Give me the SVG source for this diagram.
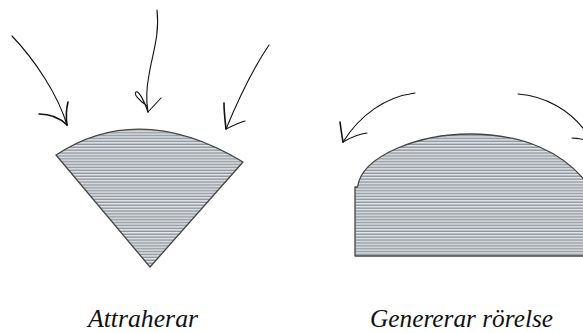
<svg xmlns="http://www.w3.org/2000/svg" width="583" height="333" viewBox="0 0 583 333">
  <defs>
    <!-- horizontal hatch used to fill both bodies -->
    <pattern id="hatch" patternUnits="userSpaceOnUse" width="6" height="2.9">
      <rect width="6" height="2.9" fill="#e4e7ea"/>
      <rect y="1.5" width="6" height="1.4" fill="#8d949b"/>
    </pattern>
  </defs>
  <style>
    .body { fill: url(#hatch); stroke: #444; stroke-width: 1.3; stroke-linejoin: round; }
    .stroke { fill: none; stroke: #111; stroke-width: 1.1; stroke-linecap: round; }
    .barb { fill: none; stroke: #111; stroke-width: 1.6; stroke-linecap: round; }
    .label { font-family: "Liberation Serif", "DejaVu Serif", serif; font-style: italic; font-size: 25px; fill: #111; }
  </style>

  <!-- sector body: attracting -->
  <g id="sector">
    <path class="body" d="M56,155 Q140,100 243,162 L150,267 Z"/>
  </g>

  <!-- dome body: generating motion -->
  <g id="dome">
    <path class="body" d="M355,256 L355,187 L357.5,187 C362,155 420,134 470,134 C520,134 565,150 592,190 L592,256 Z"/>
  </g>

  <!-- hand-drawn arrows -->
  <g id="connectors">
    <!-- incoming, left -->
    <path class="stroke" d="M12,36 C35,60 58,95 67,125"/>
    <path class="barb" d="M68,102 C66,110 66,118 67,125"/>
    <path class="barb" d="M39,114 C50,114 60,118 67,125"/>
    <!-- incoming, middle -->
    <path class="stroke" d="M157,10 C160,35 152,55 149,75 C146,90 146,100 148,112"/>
    <path class="stroke" d="M147,106 C140,101 133,94 136,92 C139,90 145,103 148,112"/>
    <path class="stroke" d="M161,98 L148,112"/>
    <!-- incoming, right -->
    <path class="stroke" d="M269,45 C252,70 238,100 226,129"/>
    <path class="barb" d="M224,103 C224,112 225,120 226,129"/>
    <path class="stroke" d="M245,121 C238,123 232,126 226,129"/>
    <!-- circulating, left -->
    <path class="stroke" d="M415,93 C385,97 360,115 343,142"/>
    <path class="barb" d="M340,122 C341,130 342,136 343,142"/>
    <path class="stroke" d="M367,133 C357,134 350,138 343,142"/>
    <!-- circulating, right -->
    <path class="stroke" d="M518,94 C545,96 570,110 586,132"/>
    <path class="stroke" d="M572,138 C577,138 581,139 590,141"/>
  </g>

  <g id="labels">
    <text class="label" x="88" y="327" textLength="110" lengthAdjust="spacingAndGlyphs">Attraherar</text>
    <text class="label" x="370" y="327" textLength="183" lengthAdjust="spacingAndGlyphs">Genererar rörelse</text>
  </g>
</svg>
